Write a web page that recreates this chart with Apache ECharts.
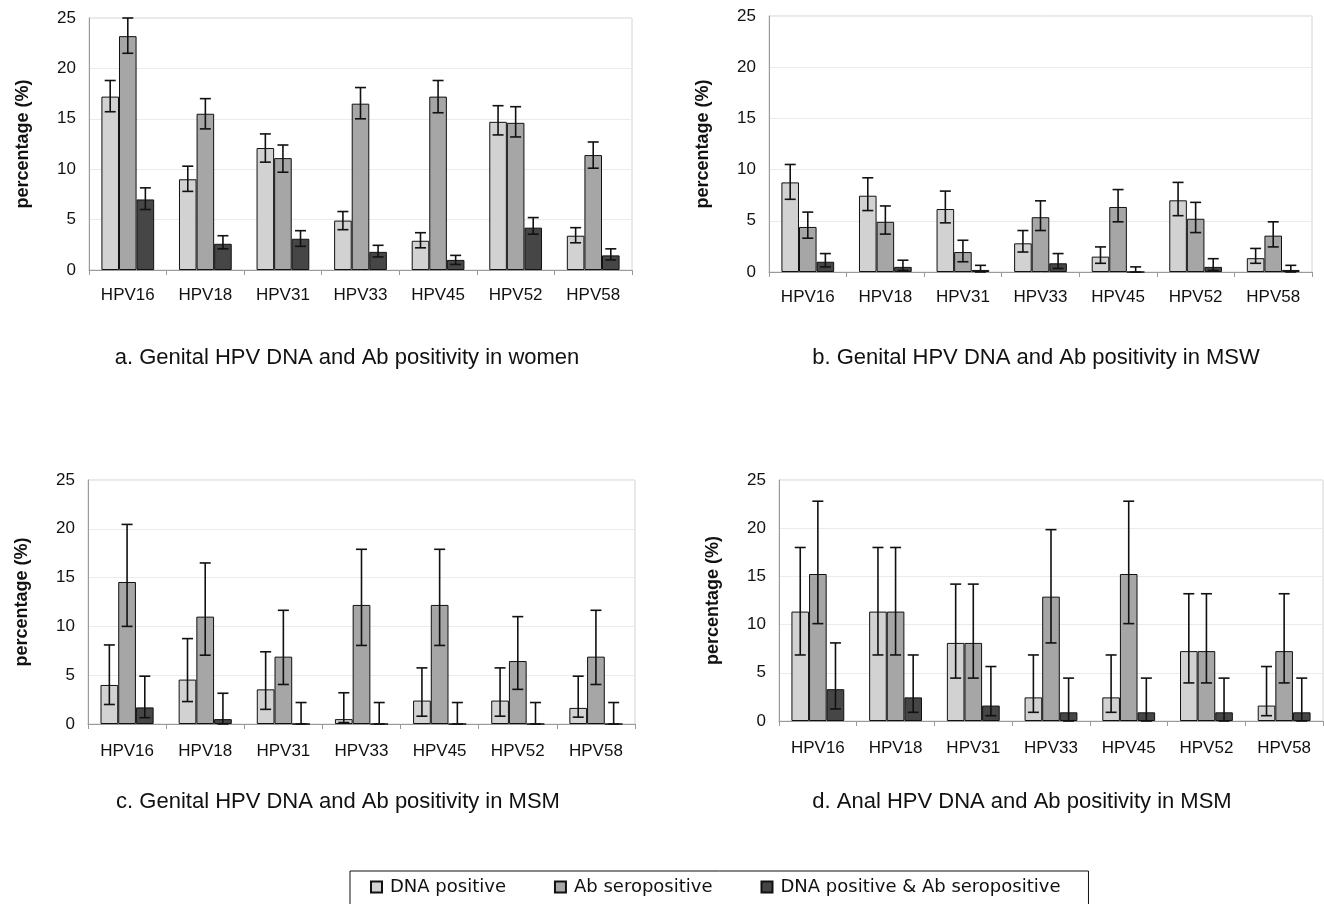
<!DOCTYPE html>
<html>
<head>
<meta charset="utf-8">
<script src="https://cdn.jsdelivr.net/npm/echarts@6/dist/echarts.min.js"></script>
<style>
html,body{margin:0;padding:0;background:#fff;}
#chart{width:1324px;height:904px;}
</style>
</head>
<body>
<div id="chart"></div>
<script>
const categories = ['HPV16','HPV18','HPV31','HPV33','HPV45','HPV52','HPV58'];
const yTicks = [0, 5, 10, 15, 20, 25];
const seriesNames = ['DNA positive', 'Ab seropositive', 'DNA positive & Ab seropositive'];
const captions = [
  'a. Genital HPV DNA and Ab positivity in women',
  'b. Genital HPV DNA and Ab positivity in MSW',
  'c. Genital HPV DNA and Ab positivity in MSM',
  'd. Anal HPV DNA and Ab positivity in MSM'
];

// Panel a: genital, women
const aDna     = [17.2, 9.0, 12.1, 4.9, 2.9, 14.7, 3.4];
const aDnaLo   = [15.7, 7.8, 10.7, 4.0, 2.2, 13.4, 2.7];
const aDnaHi   = [18.8, 10.3, 13.5, 5.8, 3.7, 16.3, 4.2];
const aAb      = [23.2, 15.5, 11.1, 16.5, 17.2, 14.6, 11.4];
const aAbLo    = [21.5, 14.0, 9.7, 15.0, 15.6, 13.2, 10.1];
const aAbHi    = [25.0, 17.0, 12.4, 18.1, 18.8, 16.2, 12.7];
const aBoth    = [7.0, 2.6, 3.1, 1.8, 1.0, 4.2, 1.45];
const aBothLo  = [6.0, 2.1, 2.35, 1.3, 0.55, 3.55, 1.0];
const aBothHi  = [8.15, 3.4, 3.9, 2.45, 1.45, 5.2, 2.1];

// Panel b: genital, MSW
const bDna     = [8.75, 7.45, 6.15, 2.8, 1.5, 7.0, 1.35];
const bDnaLo   = [7.1, 6.0, 4.8, 1.95, 0.85, 5.5, 0.85];
const bDnaHi   = [10.5, 9.2, 7.9, 4.05, 2.45, 8.75, 2.3];
const bAb      = [4.4, 4.9, 1.95, 5.35, 6.35, 5.2, 3.55];
const bAbLo    = [3.3, 3.7, 1.0, 4.05, 4.9, 3.85, 2.45];
const bAbHi    = [5.85, 6.45, 3.1, 6.95, 8.05, 6.8, 4.9];
const bBoth    = [1.0, 0.5, 0.2, 0.85, 0.0, 0.5, 0.2];
const bBothLo  = [0.5, 0.15, 0, 0.35, 0, 0.15, 0];
const bBothHi  = [1.8, 1.15, 0.65, 1.8, 0.5, 1.3, 0.65];

// Panel c: genital, MSM
const cDna     = [4.0, 4.55, 3.55, 0.5, 2.4, 2.4, 1.65];
const cDnaLo   = [2.0, 2.3, 1.5, 0.15, 0.8, 0.8, 0.7];
const cDnaHi   = [8.1, 8.75, 7.4, 3.2, 5.75, 5.75, 4.9];
const cAb      = [14.55, 11.0, 6.9, 12.2, 12.2, 6.45, 6.9];
const cAbLo    = [10.0, 7.05, 4.05, 8.05, 8.05, 3.55, 4.05];
const cAbHi    = [20.45, 16.5, 11.65, 17.9, 17.9, 11.0, 11.65];
const cBoth    = [1.7, 0.5, 0, 0, 0, 0, 0];
const cBothLo  = [0.65, 0, 0, 0, 0, 0, 0];
const cBothHi  = [4.9, 3.15, 2.2, 2.2, 2.2, 2.2, 2.2];

// Panel d: anal, MSM
const dDna     = [11.35, 11.35, 8.1, 2.45, 2.45, 7.25, 1.6];
const dDnaLo   = [6.85, 6.85, 4.45, 0.9, 0.9, 3.95, 0.55];
const dDnaHi   = [18.0, 18.0, 14.2, 6.85, 6.85, 13.2, 5.65];
const dAb      = [15.25, 11.35, 8.1, 12.9, 15.25, 7.25, 7.25];
const dAbLo    = [10.1, 6.85, 4.45, 8.1, 10.1, 3.95, 3.95];
const dAbHi    = [22.8, 18.0, 14.2, 19.85, 22.8, 13.2, 13.2];
const dBoth    = [3.3, 2.45, 1.6, 0.9, 0.9, 0.9, 0.9];
const dBothLo  = [1.25, 0.9, 0.55, 0, 0, 0, 0];
const dBothHi  = [8.1, 6.85, 5.65, 4.45, 4.45, 4.45, 4.45];

const panels = [
  {vals:[aDna,aAb,aBoth], lo:[aDnaLo,aAbLo,aBothLo], hi:[aDnaHi,aAbHi,aBothHi]},
  {vals:[bDna,bAb,bBoth], lo:[bDnaLo,bAbLo,bBothLo], hi:[bDnaHi,bAbHi,bBothHi]},
  {vals:[cDna,cAb,cBoth], lo:[cDnaLo,cAbLo,cBothLo], hi:[cDnaHi,cAbHi,cBothHi]},
  {vals:[dDna,dAb,dBoth], lo:[dDnaLo,dAbLo,dBothLo], hi:[dDnaHi,dAbHi,dBothHi]}
];

// layout (pixels)
const gridBoxes = [
  {left: 89,  top: 18,  width: 543, height: 252},
  {left: 769, top: 16,  width: 543, height: 256},
  {left: 88,  top: 480, width: 547, height: 244},
  {left: 779, top: 480, width: 544, height: 241}
];
const captionPos = [[347, 358], [1036, 358], [338, 802], [1022, 802]];
const colors = ['#d2d2d2', '#a6a6a6', '#464646'];
const BAR_FRAC = 0.68;
const FONT = '"Liberation Sans", Arial, sans-serif';

const grids = [], xAxes = [], yAxes = [], series = [], graphics = [];

gridBoxes.forEach((g, i) => {
  grids.push({left: g.left, top: g.top, width: g.width, height: g.height,
    show: true, borderColor: '#d4d4d4', borderWidth: 1, backgroundColor: 'transparent'});
  xAxes.push({
    type: 'category', gridIndex: i, data: categories,
    axisLine: {show: true, lineStyle: {color: '#9a9a9a', width: 1}},
    axisTick: {show: true, length: 5, lineStyle: {color: '#9a9a9a'}},
    axisLabel: {color: '#111', fontSize: 17, fontFamily: FONT, margin: i < 2 ? 17 : 19},
    splitLine: {show: false}
  });
  yAxes.push({
    type: 'value', gridIndex: i, min: 0, max: 25, interval: 5,
    name: 'percentage (%)', nameLocation: 'middle', nameGap: 57,
    nameTextStyle: {fontSize: 18, fontWeight: 'bold', fontFamily: FONT, color: '#111'},
    axisLine: {show: true, lineStyle: {color: '#9a9a9a', width: 1}},
    axisTick: {show: false},
    axisLabel: {color: '#111', fontSize: 17, fontFamily: FONT, margin: 13,
      formatter: v => yTicks.includes(v) ? String(v) : ''},
    splitLine: {show: true, lineStyle: {color: '#ebebeb', width: 1}}
  });

  const p = panels[i];
  for (let s = 0; s < 3; s++) {
    series.push({
      type: 'bar', name: seriesNames[s], xAxisIndex: i, yAxisIndex: i,
      data: p.vals[s], barGap: '0%', barCategoryGap: '32%',
      itemStyle: {color: colors[s], borderColor: '#111', borderWidth: 1},
      emphasis: {disabled: true}, z: 2
    });
  }
  const errData = [];
  for (let s = 0; s < 3; s++) {
    for (let c = 0; c < categories.length; c++) {
      errData.push([c, p.lo[s][c], p.hi[s][c], s]);
    }
  }
  series.push({
    type: 'custom', name: 'err' + i, xAxisIndex: i, yAxisIndex: i,
    data: errData, encode: {x: 0, y: [1, 2]}, z: 5, silent: true,
    renderItem: function (params, api) {
      const c = api.value(0);
      const base = api.coord([c, 0]);
      const band = api.size([1, 0])[0];
      const bw = band * BAR_FRAC / 3;
      const cx = base[0] + (api.value(3) - 1) * bw;
      const yLo = api.coord([c, api.value(1)])[1];
      const yHi = api.coord([c, api.value(2)])[1];
      const hw = 5.5;
      const st = {stroke: '#111', lineWidth: 1.6};
      return {type: 'group', children: [
        {type: 'line', shape: {x1: cx, y1: yLo, x2: cx, y2: yHi}, style: st},
        {type: 'line', shape: {x1: cx - hw, y1: yHi, x2: cx + hw, y2: yHi}, style: st},
        {type: 'line', shape: {x1: cx - hw, y1: yLo, x2: cx + hw, y2: yLo}, style: st}
      ]};
    }
  });

  graphics.push({
    type: 'text', x: captionPos[i][0], y: captionPos[i][1],
    style: {text: captions[i], fontSize: 22, fontFamily: FONT, fill: '#111',
      textAlign: 'center', textVerticalAlign: 'middle'}
  });
});

const chart = echarts.init(document.getElementById('chart'), null, {renderer: 'canvas'});
chart.setOption({
  animation: false,
  backgroundColor: '#fff',
  grid: grids, xAxis: xAxes, yAxis: yAxes, series: series, graphic: graphics,
  legend: {
    data: seriesNames, left: 350, top: 871,
    padding: [7, 28, 30, 20], itemGap: 48,
    borderColor: '#111', borderWidth: 1,
    itemWidth: 11, itemHeight: 11, icon: 'rect',
    selectedMode: false,
    textStyle: {fontSize: 18, fontFamily: '"DejaVu Sans", sans-serif', color: '#111', padding: [0, 0, 0, 3]}
  }
});
</script>
</body>
</html>
